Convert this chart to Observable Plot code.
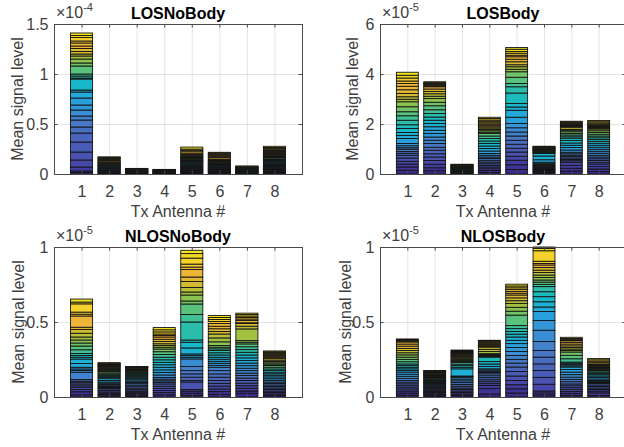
<!DOCTYPE html>
<html><head><meta charset="utf-8">
<script src="https://cdn.jsdelivr.net/npm/d3@7"></script>
<script src="https://cdn.jsdelivr.net/npm/@observablehq/plot@0.6"></script>
<style>
html,body{margin:0;padding:0;background:#fff;}
#fig{position:relative;width:624px;height:447px;overflow:hidden;background:#fff;font-family:"Liberation Sans",Arial,Helvetica,sans-serif;}
#fig svg{position:absolute;}
</style></head><body><div id="fig"></div>
<script>
// ---------------- data ----------------
const antennas = [1, 2, 3, 4, 5, 6, 7, 8];
const titles = ["LOSNoBody", "LOSBody", "NLOSNoBody", "NLOSBody"];
const exponents = ["-4", "-5", "-5", "-5"];
const yTicks = [[0, 0.5, 1, 1.5], [0, 2, 4, 6], [0, 0.5, 1], [0, 0.5, 1]];
const yMax = [1.5, 6, 1, 1];
const xLabel = "Tx Antenna #";
const yLabel = "Mean signal level";

// stacked segment heights per antenna, bottom to top, in thousandths of the displayed unit
const losNoBody = [
  [15,15,40,70,80,100,90,60,70,40,60,50,70,60,20,110,10,20,20,80,30,40,30,20,25,30,25,30,20,35,20,25],
  [4,5,4,6,5,4,6,5,4,5,6,4,5,4,6,5,4,5,6,4,5,6,5,4,6,12,8,10,6,5,4,3],
  [2,1,2,2,1,2,2,2,1,2,2,2,1,2,2,2,2,1,2,2,2,1,2,2,2,2,1,2,2,2,2,1],
  [1,2,1,2,1,2,1,1,2,1,2,1,2,1,1,2,1,2,1,2,1,1,2,1,2,1,2,1,1,2,1,2],
  [8,6,8,6,7,5,6,8,5,7,6,8,10,8,10,8,6,5,7,6,8,6,10,8,6,8,10,12,15,14,12,20],
  [5,4,6,5,4,6,5,4,6,5,4,5,6,5,8,5,6,5,7,6,5,7,6,8,7,10,15,12,10,10,10,10],
  [2,3,2,3,3,2,2,3,2,3,3,2,2,3,2,3,3,2,2,3,2,3,3,2,2,3,2,3,3,2,2,3],
  [8,6,7,8,6,7,8,10,8,9,6,7,8,6,12,10,9,8,9,12,8,9,7,8,9,10,9,10,9,12,10,12]
];
const losBody = [
  [150,130,120,110,130,110,80,70,90,60,80,90,200,120,120,160,150,180,180,160,200,200,100,100,130,150,140,110,100,120,110,120],
  [130,120,140,150,140,130,140,120,150,130,130,140,130,140,130,130,130,140,150,160,140,150,90,100,90,100,90,40,40,40,40,40],
  [12,13,12,12,13,12,12,12,13,12,12,12,12,13,12,12,12,12,13,12,12,12,12,12,13,12,12,12,12,12,12,12],
  [70,70,70,70,60,70,70,70,70,60,70,70,100,100,100,100,100,100,100,100,50,60,50,60,50,60,50,50,60,50,60,50],
  [180,190,180,160,170,150,160,160,170,160,170,170,250,280,130,140,420,250,130,250,220,100,100,80,120,100,100,60,80,70,90,70],
  [30,35,30,40,35,30,40,35,30,35,40,50,40,100,150,100,18,18,18,18,18,18,18,18,18,18,18,18,18,18,18,20],
  [120,110,120,120,60,50,60,60,50,60,60,90,100,90,90,100,90,60,70,60,70,60,20,20,80,30,30,30,40,40,30,40],
  [100,100,100,100,70,70,70,70,70,80,80,80,80,80,80,80,70,70,70,70,70,70,70,30,30,30,30,30,40,50,50,50]
];
const nlosNoBody = [
  [15,20,15,15,10,12,11,8,10,49,12,10,11,25,30,12,12,13,25,25,20,20,20,25,25,15,75,12,14,55,12,20],
  [8,9,8,9,10,11,5,5,5,5,8,9,8,10,12,8,8,7,8,8,9,7,6,7,6,7,4,5,4,5,4,4],
  [7,8,8,9,8,9,10,10,10,10,8,9,9,8,9,7,7,7,7,7,5,5,5,5,5,5,1,1,1,1,1,1],
  [14,15,14,15,14,15,11,10,11,11,17,17,17,17,17,16,17,17,18,19,18,12,11,12,15,15,15,10,10,14,14,15],
  [12,14,14,10,50,10,22,22,22,28,50,11,11,11,40,38,15,120,50,70,20,40,20,30,40,30,50,16,20,40,30,22],
  [18,18,18,19,18,19,22,22,22,22,13,14,13,14,13,15,15,15,11,11,11,25,26,26,17,18,17,18,13,14,13,13],
  [25,15,18,17,17,18,16,17,16,17,16,17,17,17,18,19,18,18,19,19,11,11,78,18,18,5,15,10,10,10,10,9],
  [10,10,10,10,10,10,10,10,10,10,11,11,12,11,10,10,11,11,12,11,9,9,9,9,10,9,7,7,7,7,7,7]
];
const nlosBody = [
  [13,14,13,14,11,11,12,11,11,14,14,14,14,11,11,10,11,11,15,16,15,15,14,15,14,15,14,14,5,5,5,5],
  [7,8,7,8,7,8,7,8,6,6,7,6,5,5,5,5,5,5,7,7,6,4,4,4,4,4,4,4,4,4,3,3],
  [10,10,10,10,10,10,12,12,12,12,12,12,4,4,48,10,11,10,11,7,7,7,8,7,6,6,6,6,6,6,6,5],
  [20,36,20,13,13,13,14,13,13,8,8,9,8,16,16,16,30,5,5,4,5,4,14,15,15,6,7,6,7,6,7,6],
  [27,28,27,28,30,30,30,26,25,26,26,27,26,22,22,19,18,19,20,70,26,26,26,18,19,19,12,12,12,12,12,12],
  [14,13,13,45,46,46,44,45,44,60,75,65,60,30,35,34,33,34,15,15,14,17,16,17,16,17,17,10,15,70,15,10],
  [12,13,12,13,12,13,12,15,15,15,17,17,17,17,8,8,9,8,22,23,22,10,10,10,11,12,11,11,5,5,5,8],
  [10,18,12,10,10,10,10,10,5,5,5,5,10,10,10,9,9,8,9,5,5,5,5,5,5,5,5,5,9,10,9,9]
];
const panelData = [losNoBody, losBody, nlosNoBody, nlosBody];

// ---------------- style ----------------
const FONT = '"Liberation Sans", Arial, Helvetica, sans-serif';
const parulaStops = [
  [0.00, "#3b2b8a"], [0.06, "#4139a0"], [0.12, "#4a4fae"], [0.20, "#4a66bc"],
  [0.26, "#4878c6"], [0.32, "#3a8cd4"], [0.40, "#26a3dd"], [0.47, "#18b5d0"],
  [0.53, "#1ebcb6"], [0.58, "#3fc095"], [0.62, "#5ec278"], [0.68, "#8dc24c"],
  [0.73, "#b0c03a"], [0.78, "#d6ba30"], [0.85, "#f2b43a"], [0.92, "#f5cd2e"], [1.00, "#f1e41f"]
];
const cmap = d3.scaleLinear().domain(parulaStops.map(s => s[0])).range(parulaStops.map(s => s[1])).interpolate(d3.interpolateRgb);
const frames = [
  {l: 54, r: 302, t: 24, b: 174, yl: 17},
  {l: 380, r: 626, t: 24, b: 174, yl: 352},
  {l: 54, r: 302, t: 247, b: 397, yl: 18},
  {l: 380, r: 626, t: 247, b: 397, yl: 345}
];
const BAR_W = 0.8, XMIN = 0, XMAX = 9;
const axisColor = "#4a4a4a";

const fig = document.getElementById("fig");

panelData.forEach((data, p) => {
  const f = frames[p];
  const ymax = yMax[p];
  const yt = yTicks[p];
  const nSeg = data[0].length;
  const segs = [];
  data.forEach((bar, i) => {
    let acc = 0;
    bar.forEach((v, k) => {
      segs.push({x1: antennas[i] - BAR_W / 2, x2: antennas[i] + BAR_W / 2, y1: acc / 1000, y2: (acc + v) / 1000, c: cmap(k / (nSeg - 1))});
      acc += v;
    });
  });
  const padL = 60, padT = 10, padR = 10, padB = 34;
  const W = f.r - f.l + padL + padR, H = f.b - f.t + padT + padB;
  const tx = (XMAX - XMIN) * 3.5 / (f.r - f.l), ty = ymax * 3.5 / (f.b - f.t);
  const svg = Plot.plot({
    width: W, height: H,
    marginLeft: padL, marginRight: padR, marginTop: padT, marginBottom: padB,
    x: {domain: [XMIN, XMAX]},
    y: {domain: [0, ymax]},
    color: {type: "identity"},
    style: {fontFamily: FONT, fontSize: "16px", color: "#404040", background: "transparent", overflow: "visible"},
    marks: [
      Plot.gridX(antennas, {stroke: "#262626", strokeOpacity: 0.12}),
      Plot.gridY(yt, {stroke: "#262626", strokeOpacity: 0.12}),
      Plot.rect(segs, {x1: "x1", x2: "x2", y1: "y1", y2: "y2", fill: "c", stroke: "#141414", strokeWidth: 0.9}),
      Plot.ruleX(antennas, {y1: 0, y2: ty, stroke: axisColor}),
      Plot.ruleX(antennas, {y1: ymax - ty, y2: ymax, stroke: axisColor}),
      Plot.ruleY(yt, {x1: XMIN, x2: XMIN + tx, stroke: axisColor}),
      Plot.ruleY(yt, {x1: XMAX - tx, x2: XMAX, stroke: axisColor}),
      Plot.frame({stroke: axisColor}),
      Plot.axisX(antennas, {tickSize: 0, tickPadding: 11, label: null, fontSize: 16, tickFormat: d => String(d)}),
      Plot.axisY(yt, {tickSize: 0, tickPadding: 6, label: null, fontSize: 16, tickFormat: d => String(d)})
    ]
  });
  svg.style.left = (f.l - padL) + "px";
  svg.style.top = (f.t - padT) + "px";
  fig.appendChild(svg);
});

// text overlay
const ov = d3.select(fig).append("svg").attr("width", 624).attr("height", 447)
  .style("left", "0px").style("top", "0px").style("font-family", FONT).style("overflow", "visible");
frames.forEach((f, p) => {
  const cx = (f.l + f.r) / 2;
  ov.append("text").attr("x", cx).attr("y", f.t - 5).attr("text-anchor", "middle")
    .attr("font-size", 16).attr("font-weight", "bold").attr("fill", "#000").text(titles[p]);
  const e = ov.append("text").attr("x", f.l + 2).attr("y", f.t - 6).attr("font-size", 16).attr("fill", "#404040");
  e.append("tspan").text("×10");
  e.append("tspan").attr("font-size", 11).attr("dy", -7).text(exponents[p]);
  ov.append("text").attr("transform", `translate(${f.yl},${(f.t + f.b) / 2}) rotate(-90)`)
    .attr("text-anchor", "middle").attr("dy", "0.35em").attr("font-size", 16).attr("fill", "#404040").text(yLabel);
  ov.append("text").attr("x", cx).attr("y", f.b + 43).attr("text-anchor", "middle")
    .attr("font-size", 16).attr("fill", "#404040").text(xLabel);
});
</script></body></html>
